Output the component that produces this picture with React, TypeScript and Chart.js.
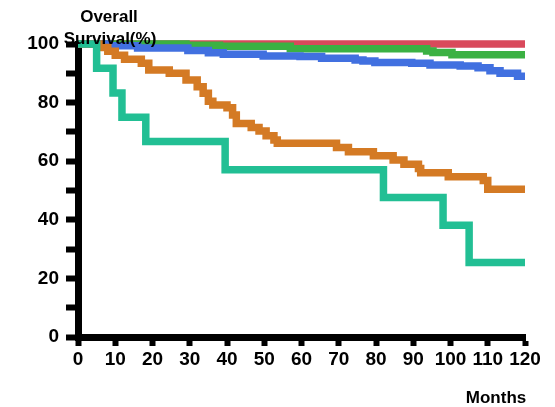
import React, { useEffect, useRef } from "react";
import { Chart, registerables } from "chart.js";

Chart.register(...registerables);

const xTicks = [0, 10, 20, 30, 40, 50, 60, 70, 80, 90, 100, 110, 120];
const yTickLabels = [0, 20, 40, 60, 80, 100];

const tealTimes = [0, 5, 9.4, 11.8, 18.2, 39.5, 82, 98, 105, 120];
const tealSurv = [100, 91.7, 83.3, 75, 66.7, 57.1, 47.6, 38.1, 25.4, 25.4];

const orangeTimes = [0, 6, 8, 10, 12.5, 17, 19, 24.5, 29, 32, 33.6, 35, 36.2, 40, 41.5, 42.5, 46.5, 48.6, 50.5, 52.6, 53.5, 69.4, 72.6, 79.3, 84.6, 87.5, 91.4, 92, 99.4, 108.8, 110, 120];
const orangeSurv = [100, 98.8, 97.5, 96.2, 94.8, 93.4, 91.1, 90, 87.7, 85.4, 83.2, 80.5, 79.2, 78.2, 75.8, 72.9, 71.5, 70.3, 68.7, 67.2, 66.1, 64.7, 63.2, 61.9, 60.4, 59, 57.5, 56.1, 54.7, 53.4, 50.4, 50.4];

const blueTimes = [0, 8, 16, 29.5, 35, 39, 49.7, 59.6, 65.4, 74.4, 76.5, 79.7, 89.6, 94.5, 102.6, 107.4, 110.6, 113.3, 118, 120];
const blueSurv = [100, 99.4, 98.6, 97.8, 97, 96.5, 95.9, 95.7, 95.1, 94.5, 94.2, 93.7, 93.4, 92.8, 92.5, 91.9, 90.9, 90, 89, 89];

const greenTimes = [0, 29, 38, 57, 93.6, 95.3, 100.4, 120];
const greenSurv = [100, 99.6, 99.2, 98.4, 97.6, 97.1, 96.3, 96.3];

const redTimes = [0, 120];
const redSurv = [100, 100];

const FONT = "'Liberation Sans', Arial, sans-serif";

const toPts = (t: number[], s: number[]) => t.map((x, i) => ({ x, y: s[i] }));

const textPlugin = {
  id: "texts",
  afterDraw(chart: any) {
    const ctx = chart.ctx;
    ctx.save();
    ctx.fillStyle = "#000";
    ctx.font = `bold 17px ${FONT}`;
    ctx.textAlign = "center";
    ctx.textBaseline = "middle";
    ctx.fillText("Overall", 109, 17);
    ctx.fillText("Survival(%)", 110, 39);
    ctx.fillText("Months", 496, 398);
    ctx.restore();
  },
};

export default function App() {
  const ref = useRef<HTMLCanvasElement | null>(null);
  useEffect(() => {
    document.body.style.margin = "0";
    const mk = (label: string, t: number[], s: number[], color: string) => ({
      label,
      data: toPts(t, s),
      borderColor: color,
      backgroundColor: color,
      borderWidth: 7.5,
      pointRadius: 0,
      stepped: true,
      fill: false,
      clip: false as any,
      borderCapStyle: "butt",
      borderJoinStyle: "miter",
    });
    const chart = new Chart(ref.current!, {
      type: "line",
      data: {
        datasets: [
          mk("teal", tealTimes, tealSurv, "#22bf94"),
          mk("orange", orangeTimes, orangeSurv, "#d47a24"),
          mk("blue", blueTimes, blueSurv, "#4170e0"),
          mk("green", greenTimes, greenSurv, "#3bb143"),
          mk("red", redTimes, redSurv, "#d9495b"),
        ] as any,
      },
      options: {
        responsive: false,
        animation: false,
        devicePixelRatio: 1,
        layout: { padding: { top: 44, right: 30, left: 0, bottom: 0 } },
        plugins: { legend: { display: false }, tooltip: { enabled: false }, title: { display: false } },
        scales: {
          x: {
            type: "linear",
            min: 0,
            max: 120,
            afterFit: (s: any) => { s.height = 70; },
            afterBuildTicks: (s: any) => { s.ticks = xTicks.map((v) => ({ value: v })); },
            ticks: {
              autoSkip: false,
              maxRotation: 0,
              padding: 2,
              color: "#000",
              font: { family: FONT, size: 19, weight: "bold" },
            },
            grid: { drawOnChartArea: false, drawTicks: true, tickLength: 9, tickWidth: 6, tickColor: "#000", color: "#000" },
            border: { display: true, width: 7, color: "#000" },
          },
          y: {
            type: "linear",
            min: 0,
            max: 100,
            afterFit: (s: any) => { s.width = 78; },
            ticks: {
              stepSize: 10,
              autoSkip: false,
              padding: 7,
              color: "#000",
              font: { family: FONT, size: 19, weight: "bold" },
              callback: (v: any) => (yTickLabels.includes(Number(v)) ? String(v) : ""),
            },
            grid: { drawOnChartArea: false, drawTicks: true, tickLength: 12, tickWidth: 6, tickColor: "#000", color: "#000" },
            border: { display: true, width: 7, color: "#000" },
          },
        },
      } as any,
      plugins: [textPlugin],
    });
    return () => chart.destroy();
  }, []);
  return (
    <div style={{ width: 555, height: 407 }}>
      <canvas ref={ref} width={555} height={407} style={{ width: 555, height: 407 }} />
    </div>
  );
}
